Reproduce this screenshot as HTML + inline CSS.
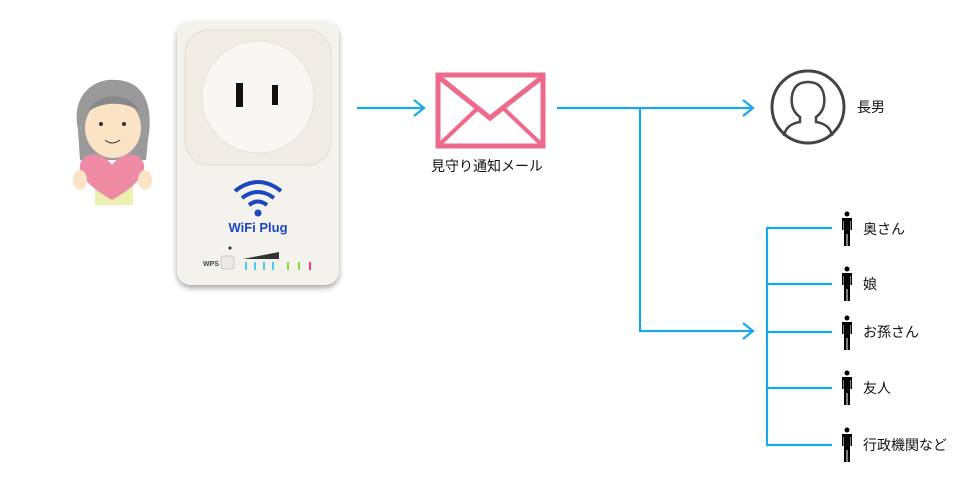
<!DOCTYPE html>
<html><head><meta charset="utf-8"><style>
body{margin:0;width:980px;height:487px;background:#fff;position:relative;overflow:hidden;font-family:"Liberation Sans","Noto Sans CJK JP",sans-serif;}
.t{position:absolute;font-size:14px;color:#111;line-height:16px;}
</style></head><body>
<svg width="980" height="487" style="position:absolute;left:0;top:0">
<path d="M78,130 C70,90 100,78 115,80 C140,80 155,100 148,140 L146,160 L80,160Z" fill="#9a9a9a"/>
<ellipse cx="113" cy="128" rx="28" ry="30" fill="#fbe3c6"/>
<path d="M88,112 C95,92 130,90 140,112 C125,100 100,102 88,112Z" fill="#888"/>
<circle cx="101" cy="124" r="2" fill="#333"/><circle cx="124" cy="124" r="2" fill="#333"/>
<path d="M105,140 Q112,146 120,140" stroke="#333" fill="none"/>
<rect x="95" y="180" width="38" height="25" fill="#eef0b0"/>
<path d="M112,200 C85,185 75,170 82,160 C90,150 105,155 112,165 C119,155 134,150 142,160 C149,170 139,185 112,200Z" fill="#ef8aa5"/>
<ellipse cx="80" cy="180" rx="7" ry="10" fill="#fbe3c6"/><ellipse cx="145" cy="180" rx="7" ry="10" fill="#fbe3c6"/>
<defs><filter id="sh"><feDropShadow dx="0" dy="3" stdDeviation="3" flood-opacity="0.35"/></filter></defs>
<rect x="177" y="21" width="162" height="264" rx="14" fill="#f4f2ec" filter="url(#sh)"/>
<rect x="185" y="30" width="146" height="135" rx="24" fill="#efede6" stroke="#e0ddd5"/>
<circle cx="258" cy="97" r="56" fill="#f8f7f3" stroke="#e6e3dc"/>
<rect x="236" y="83" width="7" height="24" fill="#111"/><rect x="272" y="85" width="6" height="20" fill="#111"/>
<path d="M235,191 Q258,173 281,191" stroke="#1a46c0" stroke-width="4" fill="none"/>
<path d="M242,198 Q258,186 274,198" stroke="#1a46c0" stroke-width="4" fill="none"/>
<path d="M249,205 Q258,198 267,205" stroke="#1a46c0" stroke-width="4" fill="none"/>
<circle cx="258" cy="213" r="3.5" fill="#1a46c0"/>
<text x="258" y="232" font-size="13" font-weight="bold" fill="#1a46c0" text-anchor="middle" font-family="Liberation Sans">WiFi Plug</text>
<circle cx="230" cy="248" r="1.5" fill="#222"/>
<text x="203" y="266" font-size="7" fill="#444" font-weight="bold">WPS</text>
<rect x="221" y="256" width="13" height="13" rx="2" fill="#ebe9e3" stroke="#ccc"/>
<path d="M243,259 L279,252 L279,259Z" fill="#333"/>
<g stroke="#4ccbf0" stroke-width="2"><line x1="246" y1="262" x2="246" y2="270"/><line x1="255" y1="262" x2="255" y2="270"/><line x1="264" y1="262" x2="264" y2="270"/><line x1="273" y1="262" x2="273" y2="270"/></g>
<line x1="288" y1="262" x2="288" y2="270" stroke="#9bd43a" stroke-width="2"/>
<line x1="299" y1="262" x2="299" y2="270" stroke="#9bd43a" stroke-width="2"/>
<line x1="310" y1="262" x2="310" y2="270" stroke="#ee3f7b" stroke-width="2"/>
<g stroke="#1aa7ec" stroke-width="2.2" fill="none">
<line x1="357" y1="108" x2="424" y2="108"/><path d="M414,100 L424,108 L414,116"/>
<path d="M557,108 L640,108 L640,331 L753,331"/><line x1="640" y1="108" x2="753" y2="108"/>
<path d="M743,100 L753,108 L743,116"/><path d="M743,323 L753,331 L743,339"/>
<path d="M832,228 L767,228 L767,445 L832,445"/>
<line x1="767" y1="284" x2="832" y2="284"/><line x1="767" y1="332" x2="832" y2="332"/><line x1="767" y1="388" x2="832" y2="388"/>
</g>
<rect x="438" y="75" width="105" height="71" fill="none" stroke="#ee6a8b" stroke-width="5"/>
<path d="M440,78 L490,118 L541,78" fill="none" stroke="#ee6a8b" stroke-width="5"/>
<path d="M440,144 L478,108 M541,144 L503,108" stroke="#ee6a8b" stroke-width="4"/>
<circle cx="808" cy="107" r="36" fill="none" stroke="#444" stroke-width="3"/>
<path d="M784,136 Q786,124 800,122 L800,117 Q790,110 792,96 Q794,82 808,82 Q822,82 824,96 Q826,110 816,117 L816,122 Q830,124 832,136" fill="none" stroke="#444" stroke-width="2.5"/>
<g fill="#000">
<g id="p"><circle cx="847" cy="214" r="2.5"/><path d="M842,218 h10 v12 h-1.5 v-9 h-0.5 v25 h-2.5 v-12 h-1 v12 h-2.5 v-25 h-0.5 v9 h-1.5z"/></g>
<use href="#p" y="55"/><use href="#p" y="104"/><use href="#p" y="159"/><use href="#p" y="216"/>
</g>
</svg>
<div class="t" style="left:431px;top:158px;font-size:14px">見守り通知メール</div>
<div class="t" style="left:857px;top:99px">長男</div>
<div class="t" style="left:863px;top:221px">奥さん</div>
<div class="t" style="left:863px;top:276px">娘</div>
<div class="t" style="left:863px;top:324px">お孫さん</div>
<div class="t" style="left:863px;top:380px">友人</div>
<div class="t" style="left:863px;top:437px">行政機関など</div>
</body></html>
